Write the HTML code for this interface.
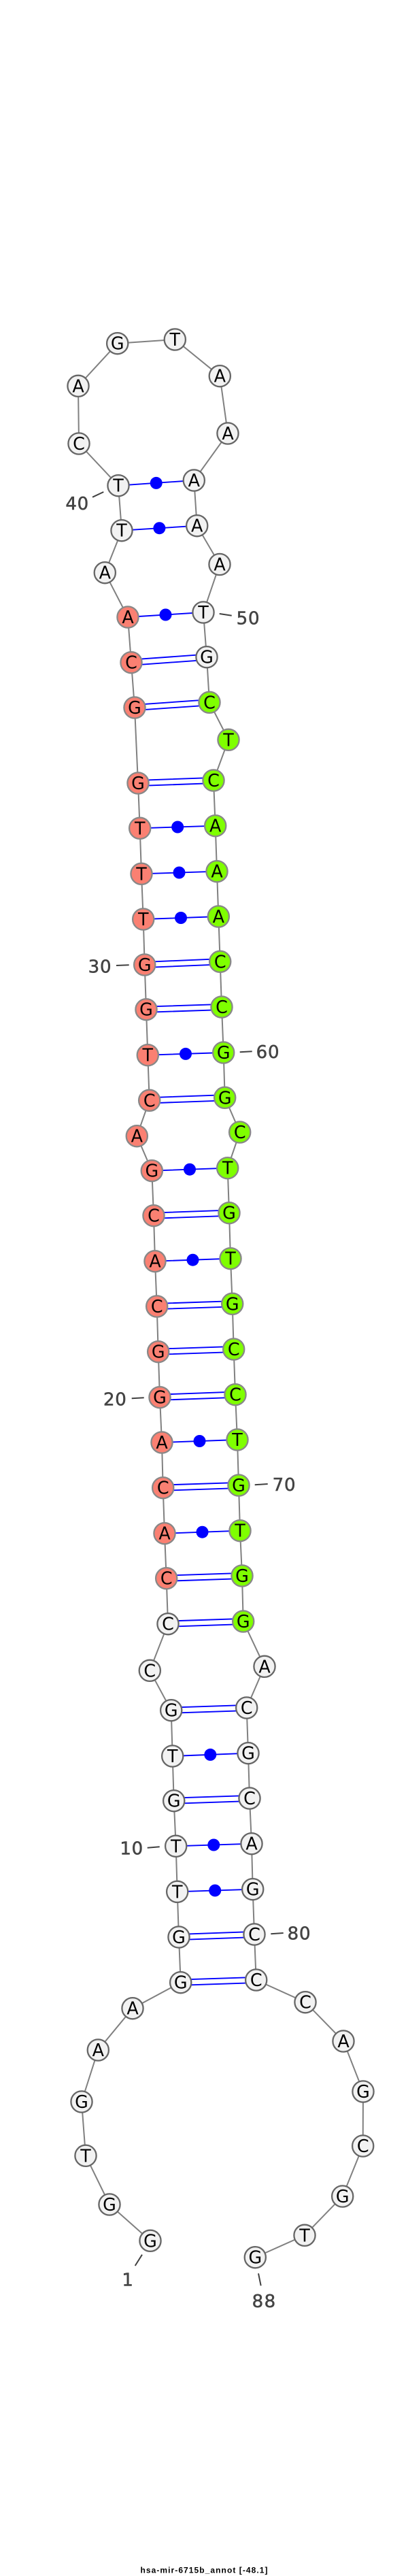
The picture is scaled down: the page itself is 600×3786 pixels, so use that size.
<!DOCTYPE html>
<html><head><meta charset="utf-8"><style>
html,body{margin:0;padding:0;background:#fff}
svg{display:block}
.n text,.l{font-family:"DejaVu Sans",sans-serif;text-anchor:middle}
.n text{font-size:25.4px;fill:#000}
.l{font-size:26px;fill:#444;stroke:#444;stroke-width:.55}
.n circle{r:15.6px;stroke-width:2.3}
.w circle{fill:#f2f2f2;stroke:#666}
.r circle{fill:#fa8072;stroke:#888}
.g circle{fill:#7fff00;stroke:#888}
</style></head><body>
<svg xmlns="http://www.w3.org/2000/svg" width="600" height="3786" viewBox="0 0 600 3786">
<rect width="600" height="3786" fill="#fff"/>
<polyline fill="none" stroke="#808080" stroke-width="2" points="221,3293.3 161,3240 126,3168.3 120,3089 144.3,3013 195,2951.7 265.7,2913.7 263,2847 260.7,2780.3 258.7,2713.3 255.7,2646.7 253.7,2581 251.7,2513.7 220.3,2455.3 247,2386.7 244.7,2319.7 242,2253.7 239.7,2186.7 238,2120 235,2053.7 232.7,1986.7 230.7,1920 228,1853.7 226,1786.7 223.3,1720.7 201.3,1669.7 219.7,1617.3 217.3,1550.7 215,1483.7 212.7,1418 210.7,1351 208,1284.3 205.7,1217.3 203,1151 198,1040 193,973.7 188,907 154.3,841.7 179,779.7 174,713.7 116,652 115,567.3 172.7,504.7 257.3,499 323.3,552.7 335,637 285.3,706 289.7,772.7 323,829.5 299,900 304,965.7 308,1032.3 336,1087.3 314,1147 316.7,1213.7 319,1280.7 321.3,1347 323.7,1413.3 326,1480 328.7,1547 330.7,1613.3 352.7,1664 334.7,1716.7 337,1782.7 339,1849.7 341.7,1916.3 343.7,1983 346,2049.7 349,2116 351,2183 353,2249.7 356,2316 357.7,2383 389,2449.3 362.7,2510 365,2576.7 367,2643 370,2709.7 371.7,2776.7 374,2843 376.7,2910 449,2942.7 505,3000 534,3074 533.7,3154 503.7,3228 448,3285.3 375.3,3317.7"/>
<g stroke="#0000ff" stroke-width="1.9" fill="none">
<path d="M174 713.7L285.3 706M179 779.7L289.7 772.7M188 907L299 900M205.7 1217.3L316.7 1213.7M208 1284.3L319 1280.7M210.7 1351L321.3 1347M217.3 1550.7L328.7 1547M223.3 1720.7L334.7 1716.7M228 1853.7L339 1849.7M238 2120L349 2116M242 2253.7L353 2249.7M253.7 2581L365 2576.7M258.7 2713.3L370 2709.7M260.7 2780.3L371.7 2776.7"/>
<path d="M193 969.6L304 961.6M193 977.8L304 969.8M198 1035.9L308 1028.2M198 1044.1L308 1036.4M203 1146.9L314 1142.9M203 1155.1L314 1151.1M212.7 1413.9L323.7 1409.2M212.7 1422.1L323.7 1417.4M215 1479.6L326 1475.9M215 1487.8L326 1484.1M219.7 1613.2L330.7 1609.2M219.7 1621.4L330.7 1617.4M226 1782.6L337 1778.6M226 1790.8L337 1786.8M230.7 1915.9L341.7 1912.2M230.7 1924.1L341.7 1920.4M232.7 1982.6L343.7 1978.9M232.7 1990.8L343.7 1987.1M235 2049.6L346 2045.6M235 2057.8L346 2053.8M239.7 2182.6L351 2178.9M239.7 2190.8L351 2187.1M244.7 2315.6L356 2311.9M244.7 2323.8L356 2320.1M247 2382.6L357.7 2378.9M247 2390.8L357.7 2387.1M251.7 2509.6L362.7 2505.9M251.7 2517.8L362.7 2514.1M255.7 2642.6L367 2638.9M255.7 2650.8L367 2647.1M263 2842.9L374 2838.9M263 2851.1L374 2847.1M265.7 2909.6L376.7 2905.9M265.7 2917.8L376.7 2914.1"/>
</g>
<g fill="#0000ff">
<circle cx="229.7" cy="709.9" r="9"/><circle cx="234.4" cy="776.2" r="9"/><circle cx="243.5" cy="903.5" r="9"/><circle cx="261.2" cy="1215.5" r="9"/><circle cx="263.5" cy="1282.5" r="9"/><circle cx="266" cy="1349" r="9"/><circle cx="273" cy="1548.9" r="9"/><circle cx="279" cy="1718.7" r="9"/><circle cx="283.5" cy="1851.7" r="9"/><circle cx="293.5" cy="2118" r="9"/><circle cx="297.5" cy="2251.7" r="9"/><circle cx="309.3" cy="2578.9" r="9"/><circle cx="314.3" cy="2711.5" r="9"/><circle cx="316.2" cy="2778.5" r="9"/>
</g>
<g stroke="#404040" stroke-width="2" fill="none">
<path d="M136 730.7L152.3 723M322.7 902L340.7 904.7M171 1419L189.7 1418.3M352.7 1546.3L370.7 1545.3M193.7 2055.3L211.7 2054.3M374.7 2182.3L393.7 2181M216.7 2715.7L234.7 2714.3M398.3 2842.3L416.7 2841M209 3313.7L198.7 3330M380 3341.3L383.7 3359.3"/>
</g>
<g class="n w">
<circle cx="221" cy="3293.3"/><text x="221" y="3302.3">G</text>
<circle cx="161" cy="3240"/><text x="161" y="3249">G</text>
<circle cx="126" cy="3168.3"/><text x="126" y="3177.3">T</text>
<circle cx="120" cy="3089"/><text x="120" y="3098">G</text>
<circle cx="144.3" cy="3013"/><text x="144.3" y="3022">A</text>
<circle cx="195" cy="2951.7"/><text x="195" y="2960.7">A</text>
<circle cx="265.7" cy="2913.7"/><text x="265.7" y="2922.7">G</text>
<circle cx="263" cy="2847"/><text x="263" y="2856">G</text>
<circle cx="260.7" cy="2780.3"/><text x="260.7" y="2789.3">T</text>
<circle cx="258.7" cy="2713.3"/><text x="258.7" y="2722.3">T</text>
<circle cx="255.7" cy="2646.7"/><text x="255.7" y="2655.7">G</text>
<circle cx="253.7" cy="2581"/><text x="253.7" y="2590">T</text>
<circle cx="251.7" cy="2513.7"/><text x="251.7" y="2522.7">G</text>
<circle cx="220.3" cy="2455.3"/><text x="220.3" y="2464.3">C</text>
<circle cx="247" cy="2386.7"/><text x="247" y="2395.7">C</text>
<circle cx="179" cy="779.7"/><text x="179" y="788.7">T</text>
<circle cx="174" cy="713.7"/><text x="174" y="722.7">T</text>
<circle cx="154.3" cy="841.7"/><text x="154.3" y="850.7">A</text>
<circle cx="116" cy="652"/><text x="116" y="661">C</text>
<circle cx="115" cy="567.3"/><text x="115" y="576.3">A</text>
<circle cx="172.7" cy="504.7"/><text x="172.7" y="513.7">G</text>
<circle cx="257.3" cy="499"/><text x="257.3" y="508">T</text>
<circle cx="323.3" cy="552.7"/><text x="323.3" y="561.7">A</text>
<circle cx="335" cy="637"/><text x="335" y="646">A</text>
<circle cx="285.3" cy="706"/><text x="285.3" y="715">A</text>
<circle cx="289.7" cy="772.7"/><text x="289.7" y="781.7">A</text>
<circle cx="323" cy="829.5"/><text x="323" y="838.5">A</text>
<circle cx="299" cy="900"/><text x="299" y="909">T</text>
<circle cx="304" cy="965.7"/><text x="304" y="974.7">G</text>
<circle cx="389" cy="2449.3"/><text x="389" y="2458.3">A</text>
<circle cx="362.7" cy="2510"/><text x="362.7" y="2519">C</text>
<circle cx="365" cy="2576.7"/><text x="365" y="2585.7">G</text>
<circle cx="367" cy="2643"/><text x="367" y="2652">C</text>
<circle cx="370" cy="2709.7"/><text x="370" y="2718.7">A</text>
<circle cx="371.7" cy="2776.7"/><text x="371.7" y="2785.7">G</text>
<circle cx="374" cy="2843"/><text x="374" y="2852">C</text>
<circle cx="376.7" cy="2910"/><text x="376.7" y="2919">C</text>
<circle cx="449" cy="2942.7"/><text x="449" y="2951.7">C</text>
<circle cx="505" cy="3000"/><text x="505" y="3009">A</text>
<circle cx="534" cy="3074"/><text x="534" y="3083">G</text>
<circle cx="533.7" cy="3154"/><text x="533.7" y="3163">C</text>
<circle cx="503.7" cy="3228"/><text x="503.7" y="3237">G</text>
<circle cx="448" cy="3285.3"/><text x="448" y="3294.3">T</text>
<circle cx="375.3" cy="3317.7"/><text x="375.3" y="3326.7">G</text>
</g>
<g class="n r">
<circle cx="244.7" cy="2319.7"/><text x="244.7" y="2328.7">C</text>
<circle cx="242" cy="2253.7"/><text x="242" y="2262.7">A</text>
<circle cx="239.7" cy="2186.7"/><text x="239.7" y="2195.7">C</text>
<circle cx="238" cy="2120"/><text x="238" y="2129">A</text>
<circle cx="235" cy="2053.7"/><text x="235" y="2062.7">G</text>
<circle cx="232.7" cy="1986.7"/><text x="232.7" y="1995.7">G</text>
<circle cx="230.7" cy="1920"/><text x="230.7" y="1929">C</text>
<circle cx="228" cy="1853.7"/><text x="228" y="1862.7">A</text>
<circle cx="226" cy="1786.7"/><text x="226" y="1795.7">C</text>
<circle cx="223.3" cy="1720.7"/><text x="223.3" y="1729.7">G</text>
<circle cx="201.3" cy="1669.7"/><text x="201.3" y="1678.7">A</text>
<circle cx="219.7" cy="1617.3"/><text x="219.7" y="1626.3">C</text>
<circle cx="217.3" cy="1550.7"/><text x="217.3" y="1559.7">T</text>
<circle cx="215" cy="1483.7"/><text x="215" y="1492.7">G</text>
<circle cx="212.7" cy="1418"/><text x="212.7" y="1427">G</text>
<circle cx="210.7" cy="1351"/><text x="210.7" y="1360">T</text>
<circle cx="208" cy="1284.3"/><text x="208" y="1293.3">T</text>
<circle cx="205.7" cy="1217.3"/><text x="205.7" y="1226.3">T</text>
<circle cx="203" cy="1151"/><text x="203" y="1160">G</text>
<circle cx="198" cy="1040"/><text x="198" y="1049">G</text>
<circle cx="193" cy="973.7"/><text x="193" y="982.7">C</text>
<circle cx="188" cy="907"/><text x="188" y="916">A</text>
</g>
<g class="n g">
<circle cx="308" cy="1032.3"/><text x="308" y="1041.3">C</text>
<circle cx="336" cy="1087.3"/><text x="336" y="1096.3">T</text>
<circle cx="314" cy="1147"/><text x="314" y="1156">C</text>
<circle cx="316.7" cy="1213.7"/><text x="316.7" y="1222.7">A</text>
<circle cx="319" cy="1280.7"/><text x="319" y="1289.7">A</text>
<circle cx="321.3" cy="1347"/><text x="321.3" y="1356">A</text>
<circle cx="323.7" cy="1413.3"/><text x="323.7" y="1422.3">C</text>
<circle cx="326" cy="1480"/><text x="326" y="1489">C</text>
<circle cx="328.7" cy="1547"/><text x="328.7" y="1556">G</text>
<circle cx="330.7" cy="1613.3"/><text x="330.7" y="1622.3">G</text>
<circle cx="352.7" cy="1664"/><text x="352.7" y="1673">C</text>
<circle cx="334.7" cy="1716.7"/><text x="334.7" y="1725.7">T</text>
<circle cx="337" cy="1782.7"/><text x="337" y="1791.7">G</text>
<circle cx="339" cy="1849.7"/><text x="339" y="1858.7">T</text>
<circle cx="341.7" cy="1916.3"/><text x="341.7" y="1925.3">G</text>
<circle cx="343.7" cy="1983"/><text x="343.7" y="1992">C</text>
<circle cx="346" cy="2049.7"/><text x="346" y="2058.7">C</text>
<circle cx="349" cy="2116"/><text x="349" y="2125">T</text>
<circle cx="351" cy="2183"/><text x="351" y="2192">G</text>
<circle cx="353" cy="2249.7"/><text x="353" y="2258.7">T</text>
<circle cx="356" cy="2316"/><text x="356" y="2325">G</text>
<circle cx="357.7" cy="2383"/><text x="357.7" y="2392">G</text>
</g>
<text class="l" x="113.7" y="749" letter-spacing=".8">40</text>
<text class="l" x="365" y="917.7" letter-spacing=".8">50</text>
<text class="l" x="147" y="1429.3" letter-spacing=".8">30</text>
<text class="l" x="394" y="1555" letter-spacing=".8">60</text>
<text class="l" x="169.3" y="2065.7" letter-spacing=".8">20</text>
<text class="l" x="418" y="2191" letter-spacing=".8">70</text>
<text class="l" x="193.7" y="2725.7" letter-spacing=".8">10</text>
<text class="l" x="440" y="2850.7" letter-spacing=".8">80</text>
<text class="l" x="187.7" y="3359.3">1</text>
<text class="l" x="388.7" y="3391" letter-spacing="1.5">88</text>
<text x="300" y="3781.5" text-anchor="middle" font-family="'Liberation Sans',sans-serif" font-weight="bold" font-size="12" fill="#000" textLength="187" lengthAdjust="spacing">hsa-mir-6715b_annot [-48.1]</text>
</svg>
</body></html>
